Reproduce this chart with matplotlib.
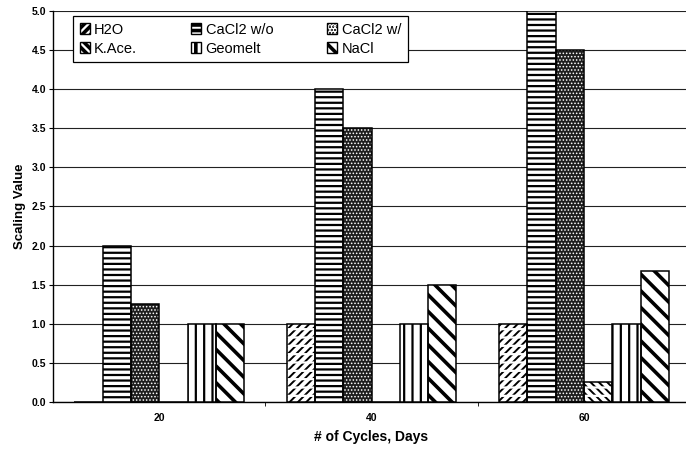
import matplotlib
matplotlib.use('Agg')
import matplotlib.pyplot as plt
import numpy as np

plt.rcParams['font.family'] = ['Liberation Sans', 'DejaVu Sans']

# 数据
cycles = ['20', '40', '60']
h2o = [0.0, 1.0, 1.0]
cacl2_wo = [2.0, 4.0, 5.0]
cacl2_w = [1.25, 3.5, 4.5]
k_ace = [0.0, 0.0, 0.25]
geomelt = [1.0, 1.0, 1.0]
nacl = [1.0, 1.5, 1.67]

names = ['H2O', 'CaCl2 w/o', 'CaCl2 w/', 'K.Ace.', 'Geomelt', 'NaCl']
series = [h2o, cacl2_wo, cacl2_w, k_ace, geomelt, nacl]
# 每个系列的填充样式: (底色, 花纹, 花纹颜色, 花纹线宽, 是否虚线花纹)
styles = [
    ('white', '////', 'black', 1.4, True),
    ('white', '---', 'black', 1.6, False),
    ('#1e1e1e', '.....', 'white', 0.7, False),
    ('white', '\\\\\\\\', 'black', 1.4, True),
    ('white', '||', 'black', 1.6, False),
    ('white', '\\\\', 'black', 2.6, False),
]


def make_patches(ax_bar, pos, vals, w, st):
    """画一组柱子: 底色+花纹, 虚线遮罩, 黑色外框"""
    fc, hatch, hc, hlw, dashed = st
    plt.rcParams['hatch.linewidth'] = hlw
    bars = ax_bar(pos, vals, w, color=fc, edgecolor=hc, hatch=hatch,
                  linewidth=0, zorder=3)
    for b in bars:
        if hasattr(b, 'set_hatch_linewidth'):
            b.set_hatch_linewidth(hlw)
    if dashed:
        # 用白色横线把斜线切成短划
        plt.rcParams['hatch.linewidth'] = 1.6
        masks = ax_bar(pos, vals, w, fill=False, edgecolor='white',
                       hatch='--', linewidth=0, zorder=3.5)
        for b in masks:
            if hasattr(b, 'set_hatch_linewidth'):
                b.set_hatch_linewidth(1.6)
    ax_bar(pos, vals, w, fill=False, edgecolor='black', linewidth=1.1, zorder=4)


fig = plt.figure(figsize=(6.86, 4.49), dpi=100)
ax = fig.add_axes([0.0773, 0.1047, 0.9286, 0.8708])

x = np.arange(len(cycles))
w = 0.8 / len(series)

handles = []
for i, (name, vals, st) in enumerate(zip(names, series, styles)):
    pos = x + (i - 2.5) * w
    make_patches(ax.bar, pos, vals, w, st)
    fc, hatch, hc, hlw, dashed = st
    plt.rcParams['hatch.linewidth'] = hlw
    h_fill = plt.Rectangle((0, 0), 1, 1, facecolor=fc, edgecolor=hc,
                           hatch=hatch, linewidth=0)
    if hasattr(h_fill, 'set_hatch_linewidth'):
        h_fill.set_hatch_linewidth(hlw)
    h_edge = plt.Rectangle((0, 0), 1, 1, fill=False, edgecolor='black', linewidth=1.0)
    handles.append((h_fill, h_edge))

ax.set_xlim(-0.5, 2.5)
ax.set_ylim(0, 5.0)
yt = np.arange(0, 5.01, 0.5)
ax.set_yticks(yt)
ax.set_yticklabels(['%.1f' % v for v in yt], fontsize=7.5, fontweight='bold')
ax.set_xticks(x)
ax.set_xticklabels(cycles, fontsize=7.5, fontweight='bold')
ax.set_xticks([0.5, 1.5], minor=True)
ax.tick_params(axis='x', which='major', length=0, pad=8)
ax.tick_params(axis='x', which='minor', length=3, direction='out')
ax.tick_params(axis='y', length=3, direction='out', pad=2)

ax.yaxis.grid(True, color='#222222', linewidth=0.8, zorder=0)
ax.set_axisbelow(True)
for s in ['top', 'right']:
    ax.spines[s].set_visible(False)
ax.spines['left'].set_linewidth(1.0)
ax.spines['bottom'].set_linewidth(1.0)

ax.set_ylabel('Scaling Value', fontsize=9.5, fontweight='bold', labelpad=4)
ax.set_xlabel('# of Cycles, Days', fontsize=10, fontweight='bold', labelpad=5)

# 图例按行排列
order = [0, 3, 1, 4, 2, 5]
leg = ax.legend([handles[k] for k in order], [names[k] for k in order],
                ncol=3, loc='upper left',
                bbox_to_anchor=(73 / 686, 1 - 16 / 449),
                bbox_transform=fig.transFigure, borderaxespad=0,
                fontsize=10.5, frameon=True, fancybox=False, edgecolor='black',
                framealpha=1, handlelength=0.7, handleheight=0.7,
                handletextpad=0.3, columnspacing=3.7, labelspacing=0.35,
                borderpad=0.45)
leg.get_frame().set_linewidth(0.9)
leg.set_zorder(5)

fig.savefig('out.png', dpi=100)
